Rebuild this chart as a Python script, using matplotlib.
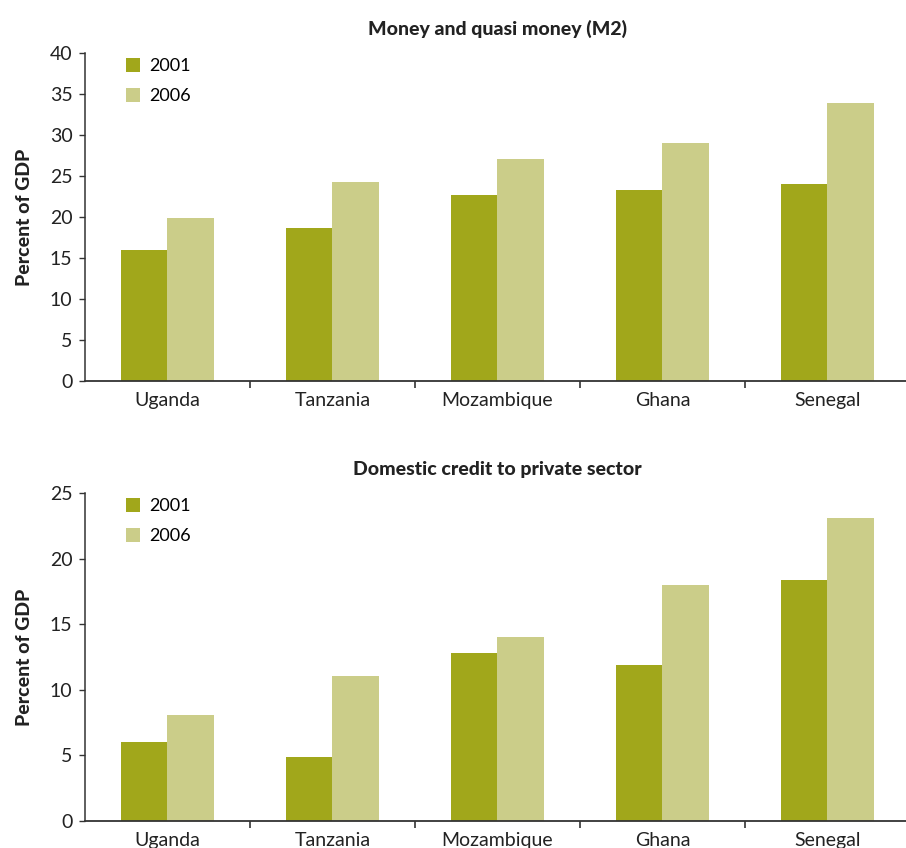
import numpy as np
import matplotlib.pyplot as plt
from matplotlib.ticker import FixedLocator

plt.rcParams["font.family"] = ["Lato", "DejaVu Sans"]

countries = ["Uganda", "Tanzania", "Mozambique", "Ghana", "Senegal"]
years = ["2001", "2006"]

m2_2001 = [16.0, 18.7, 22.7, 23.3, 24.0]
m2_2006 = [19.9, 24.3, 27.1, 29.1, 33.9]

credit_2001 = [6.0, 4.9, 12.8, 11.9, 18.4]
credit_2006 = [8.1, 11.1, 14.0, 18.0, 23.1]

DARK = "#a1a71b"
LIGHT = "#cbcd89"
AXIS = "#333333"
TEXT = "#222222"


def draw_panel(ax, v01, v06, title, ymax, ystep):
    x = np.arange(len(countries)) + 0.5
    w = 0.279
    ax.bar(x - w / 2, v01, width=w, color=DARK, label=years[0])
    ax.bar(x + w / 2, v06, width=w, color=LIGHT, label=years[1])

    ax.set_xlim(0, len(countries))
    ax.set_ylim(0, ymax)
    ax.set_yticks(np.arange(0, ymax + 1, ystep))
    ax.set_xticks(x)
    ax.set_xticklabels(countries)
    # ticks sit between the country groups
    ax.xaxis.set_minor_locator(FixedLocator(np.arange(1, len(countries))))
    ax.tick_params(axis="x", which="major", length=0, pad=8, labelsize=14,
                   colors=TEXT)
    ax.tick_params(axis="x", which="minor", length=5, width=1.2, color=AXIS)
    ax.tick_params(axis="y", length=4, width=1, color=AXIS, labelsize=14,
                   labelcolor=TEXT, pad=5)

    for s in ["top", "right"]:
        ax.spines[s].set_visible(False)
    ax.spines["left"].set_color(AXIS)
    ax.spines["bottom"].set_color(AXIS)
    ax.spines["left"].set_linewidth(1.1)
    ax.spines["bottom"].set_linewidth(1.3)

    ax.set_ylabel("Percent of GDP", fontsize=14, fontweight="black",
                  color=TEXT, labelpad=12)
    ax.set_title(title, fontsize=14, fontweight="black", color=TEXT, pad=13)

    ax.legend(loc="upper left", bbox_to_anchor=(0.03, 1.035), frameon=False,
              fontsize=13, handlelength=0.8, handleheight=0.8,
              handletextpad=0.5, labelspacing=0.75)


fig = plt.figure(figsize=(9.06, 8.48), dpi=100)
ax1 = fig.add_axes([0.0938, 0.5507, 0.9106, 0.3864])
ax2 = fig.add_axes([0.0938, 0.0318, 0.9106, 0.3865])

draw_panel(ax1, m2_2001, m2_2006, "Money and quasi money (M2)", 40, 5)
draw_panel(ax2, credit_2001, credit_2006, "Domestic credit to private sector", 25, 5)

fig.savefig("out.png", dpi=100)
